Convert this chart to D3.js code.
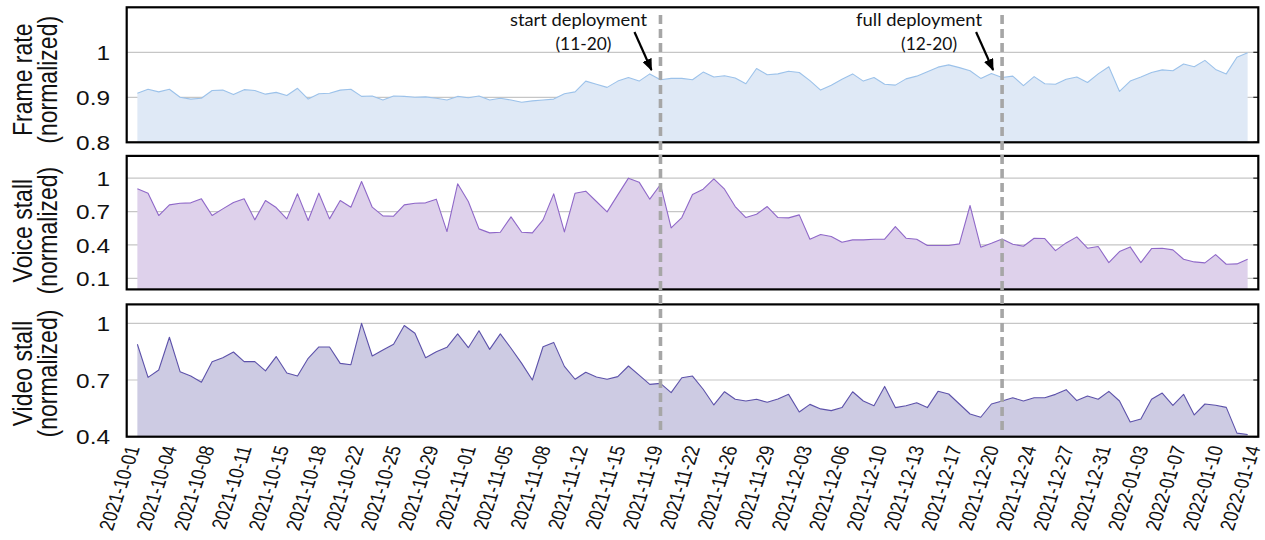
<!DOCTYPE html>
<html>
<head>
<meta charset="utf-8">
<script src="https://cdn.jsdelivr.net/npm/d3@7"></script>
<style>
  html, body { margin: 0; padding: 0; background: #fff; }
  svg { display: block; }
</style>
</head>
<body>
<svg id="chart" width="1265" height="540"></svg>
<script>
// ---- data -------------------------------------------------------------
const startDate = "2021-10-01";   // one value per day from here on

const frameRate = [
  0.909, 0.918, 0.912, 0.918, 0.900, 0.896, 0.898, 0.915, 0.916, 0.906,
  0.917, 0.915, 0.907, 0.911, 0.904, 0.920, 0.896, 0.908, 0.909, 0.916,
  0.918, 0.902, 0.903, 0.894, 0.903, 0.902, 0.900, 0.901, 0.898, 0.894,
  0.902, 0.899, 0.903, 0.894, 0.898, 0.894, 0.889, 0.892, 0.894, 0.896,
  0.908, 0.912, 0.936, 0.929, 0.922, 0.936, 0.944, 0.936, 0.952, 0.939,
  0.942, 0.942, 0.939, 0.956, 0.945, 0.948, 0.943, 0.930, 0.964, 0.950,
  0.952, 0.958, 0.955, 0.937, 0.916, 0.927, 0.940, 0.952, 0.936, 0.944,
  0.929, 0.927, 0.941, 0.947, 0.957, 0.967, 0.972, 0.966, 0.959, 0.942,
  0.953, 0.944, 0.947, 0.926, 0.946, 0.930, 0.929, 0.940, 0.945, 0.933,
  0.952, 0.968, 0.913, 0.936, 0.945, 0.955, 0.961, 0.959, 0.974, 0.968,
  0.982, 0.962, 0.952, 0.989, 0.999
];

const voiceStall = [
  0.904, 0.865, 0.664, 0.760, 0.775, 0.778, 0.814, 0.664, 0.724, 0.781,
  0.814, 0.625, 0.799, 0.736, 0.634, 0.859, 0.619, 0.865, 0.634, 0.799,
  0.739, 0.970, 0.739, 0.661, 0.658, 0.760, 0.775, 0.778, 0.811, 0.520,
  0.949, 0.790, 0.544, 0.508, 0.514, 0.652, 0.514, 0.508, 0.625, 0.859,
  0.517, 0.865, 0.883, 0.790, 0.697, 0.850, 1.000, 0.964, 0.811, 0.943,
  0.553, 0.646, 0.853, 0.901, 0.994, 0.901, 0.745, 0.646, 0.676, 0.745,
  0.646, 0.643, 0.670, 0.451, 0.493, 0.475, 0.424, 0.445, 0.445, 0.451,
  0.451, 0.565, 0.460, 0.451, 0.394, 0.394, 0.394, 0.409, 0.754, 0.379,
  0.415, 0.454, 0.406, 0.388, 0.460, 0.457, 0.349, 0.418, 0.472, 0.370,
  0.385, 0.241, 0.340, 0.382, 0.241, 0.367, 0.370, 0.355, 0.271, 0.247,
  0.238, 0.313, 0.226, 0.229, 0.271
];

const videoStall = [
  0.889, 0.714, 0.753, 0.926, 0.744, 0.721, 0.688, 0.797, 0.818, 0.848,
  0.797, 0.797, 0.748, 0.824, 0.737, 0.721, 0.815, 0.875, 0.875, 0.788,
  0.781, 1.000, 0.827, 0.859, 0.889, 0.988, 0.947, 0.818, 0.850, 0.873,
  0.944, 0.871, 0.961, 0.862, 0.944, 0.868, 0.788, 0.700, 0.876, 0.899,
  0.772, 0.704, 0.741, 0.716, 0.704, 0.718, 0.774, 0.726, 0.677, 0.682,
  0.633, 0.712, 0.721, 0.651, 0.568, 0.638, 0.598, 0.589, 0.598, 0.582,
  0.599, 0.624, 0.531, 0.571, 0.547, 0.538, 0.554, 0.638, 0.589, 0.564,
  0.666, 0.554, 0.564, 0.580, 0.554, 0.640, 0.626, 0.573, 0.520, 0.503,
  0.573, 0.589, 0.606, 0.589, 0.606, 0.606, 0.624, 0.649, 0.591, 0.615,
  0.598, 0.640, 0.589, 0.478, 0.494, 0.598, 0.631, 0.566, 0.624, 0.515,
  0.573, 0.566, 0.555, 0.419, 0.412
];

// date labels, one every 3.5 days
const tickLabels = [
  "2021-10-01", "2021-10-04", "2021-10-08", "2021-10-11", "2021-10-15",
  "2021-10-18", "2021-10-22", "2021-10-25", "2021-10-29", "2021-11-01",
  "2021-11-05", "2021-11-08", "2021-11-12", "2021-11-15", "2021-11-19",
  "2021-11-22", "2021-11-26", "2021-11-29", "2021-12-03", "2021-12-06",
  "2021-12-10", "2021-12-13", "2021-12-17", "2021-12-20", "2021-12-24",
  "2021-12-27", "2021-12-31", "2022-01-03", "2022-01-07", "2022-01-10",
  "2022-01-14"
];

const frameRateTicks = [0.8, 0.9, 1];
const voiceStallTicks = [0.1, 0.4, 0.7, 1];
const videoStallTicks = [0.4, 0.7, 1];

const deploymentDates = ["2021-11-19", "2021-12-21"];
const deploymentNotes = [["start deployment", "(11-20)"], ["full deployment", "(12-20)"]];

// ---- layout -------------------------------------------------------------
const svg = d3.select("#chart");
const plotLeft = 126.7, plotRight = 1258.3;
const textStretch = 1.22;          // glyphs are drawn slightly wide
const axisFont = "'Liberation Sans', Arial, Helvetica, sans-serif";

const parse = d3.utcParse("%Y-%m-%d");
const start = parse(startDate);
const dates = frameRate.map((_, i) => d3.utcDay.offset(start, i));
const endDate = parse(tickLabels[tickLabels.length - 1]);

const x = d3.scaleUtc()
  .domain([d3.utcDay.offset(start, -1), endDate])
  .range([plotLeft, plotRight]);

const panels = [
  { title: ["Frame rate", "(normalized)"], values: frameRate, ticks: frameRateTicks,
    domain: [0.8, 1.1], top: 7.3, bottom: 142.3, titleShift: 5,
    fill: "#dfe9f6", stroke: "#9cc2ea" },
  { title: ["Voice stall", "(normalized)"], values: voiceStall, ticks: voiceStallTicks,
    domain: [0, 1.2], top: 155.9, bottom: 289.4, titleShift: 8,
    fill: "#ded1eb", stroke: "#8f68c8" },
  { title: ["Video stall", "(normalized)"], values: videoStall, ticks: videoStallTicks,
    domain: [0.4, 1.1], top: 304.4, bottom: 436.7, titleShift: 3,
    fill: "#cdcbe3", stroke: "#5d52aa" }
];

panels.forEach(p => {
  const y = d3.scaleLinear().domain(p.domain).range([p.bottom, p.top]);
  const g = svg.append("g");

  // gridlines
  g.selectAll("line.grid").data(p.ticks).join("line")
    .attr("class", "grid")
    .attr("x1", plotLeft).attr("x2", plotRight)
    .attr("y1", d => y(d)).attr("y2", d => y(d))
    .attr("stroke", "#c6c6c6").attr("stroke-width", 1.2);

  // filled area + outline
  const area = d3.area()
    .x((d, i) => x(dates[i]))
    .y0(y(p.domain[0]))
    .y1(d => y(d));
  const line = d3.line()
    .x((d, i) => x(dates[i]))
    .y(d => y(d));

  g.append("path").datum(p.values)
    .attr("d", area).attr("fill", p.fill);
  g.append("path").datum(p.values)
    .attr("d", line).attr("fill", "none")
    .attr("stroke", p.stroke).attr("stroke-width", 1.1)
    .attr("stroke-linejoin", "round");

  // small ticks on the inner right edge
  g.selectAll("line.rtick").data(p.ticks).join("line")
    .attr("class", "rtick")
    .attr("x1", plotRight - 5).attr("x2", plotRight)
    .attr("y1", d => y(d)).attr("y2", d => y(d))
    .attr("stroke", "#222").attr("stroke-width", 1.2);

  // frame
  g.append("rect")
    .attr("x", plotLeft).attr("y", p.top)
    .attr("width", plotRight - plotLeft).attr("height", p.bottom - p.top)
    .attr("fill", "none").attr("stroke", "#000").attr("stroke-width", 2.2);

  // y axis labels
  const yAxis = d3.axisLeft(y).tickValues(p.ticks).tickSize(0).tickPadding(0)
    .tickFormat(d3.format("~g"));
  const ag = svg.append("g").attr("transform", "translate(110,0)").call(yAxis);
  ag.select(".domain").remove();
  ag.selectAll("text")
    .attr("font-family", axisFont).attr("font-size", 20).attr("fill", "#111")
    .attr("dy", "0.36em")
    .attr("transform", `scale(${textStretch},1)`);

  // axis title (two rotated lines)
  const cy = (p.top + p.bottom) / 2 + p.titleShift;
  const tg = svg.append("g").attr("font-family", axisFont).attr("font-size", 23).attr("fill", "#111");
  tg.append("text")
    .attr("transform", `translate(31.5,${cy}) scale(${textStretch},1) rotate(-90)`)
    .attr("text-anchor", "middle").text(p.title[0]);
  tg.append("text")
    .attr("transform", `translate(57,${cy}) scale(${textStretch},1) rotate(-90)`)
    .attr("text-anchor", "middle").text(p.title[1]);
});

// ---- x axis -------------------------------------------------------------
const tickDates = tickLabels.map((_, k) => d3.utcHour.offset(start, k * 84));
const xAxis = d3.axisBottom(x).tickValues(tickDates)
  .tickFormat((d, k) => tickLabels[k]).tickSize(0).tickPadding(0);
const xg = svg.append("g").attr("transform", "translate(0,446)").call(xAxis);
xg.select(".domain").remove();
xg.selectAll("text")
  .attr("font-family", axisFont).attr("font-size", 17).attr("fill", "#111")
  .attr("text-anchor", "end")
  .attr("x", 0).attr("y", 0).attr("dy", "0.35em")
  .attr("transform", `translate(-5,0) scale(${textStretch},1) rotate(-75)`);

// ---- deployment markers ---------------------------------------------------
const defs = svg.append("defs");
defs.append("marker")
  .attr("id", "arrowhead")
  .attr("viewBox", "0 0 12 10")
  .attr("refX", 11).attr("refY", 5)
  .attr("markerWidth", 12).attr("markerHeight", 10)
  .attr("markerUnits", "userSpaceOnUse")
  .attr("orient", "auto")
  .append("path").attr("d", "M0,0 L12,5 L0,10 z").attr("fill", "#000");

const noteFont = "Lato, 'Open Sans', sans-serif";
const noteOffsets = [[-82, -77], [-83, -73]];
const noteWidths = [[137, 56], [126, 56]];

deploymentDates.forEach((ds, k) => {
  const lx = x(parse(ds));
  svg.append("line")
    .attr("x1", lx).attr("x2", lx).attr("y1", 15).attr("y2", 430)
    .attr("stroke", "#a6a6a6").attr("stroke-width", 3.6)
    .attr("stroke-dasharray", "9,5");

  svg.append("line")
    .attr("x1", lx - 26).attr("y1", 32)
    .attr("x2", lx - 9).attr("y2", 70)
    .attr("stroke", "#000").attr("stroke-width", 2.2)
    .attr("marker-end", "url(#arrowhead)");

  const tg = svg.append("g").attr("font-family", noteFont).attr("font-size", 17)
    .attr("fill", "#111").attr("text-anchor", "middle");
  tg.append("text").attr("x", lx + noteOffsets[k][0]).attr("y", 26)
    .attr("textLength", noteWidths[k][0]).attr("lengthAdjust", "spacingAndGlyphs")
    .text(deploymentNotes[k][0]);
  tg.append("text").attr("x", lx + noteOffsets[k][1]).attr("y", 50)
    .attr("textLength", noteWidths[k][1]).attr("lengthAdjust", "spacingAndGlyphs")
    .text(deploymentNotes[k][1]);
});
</script>
</body>
</html>
